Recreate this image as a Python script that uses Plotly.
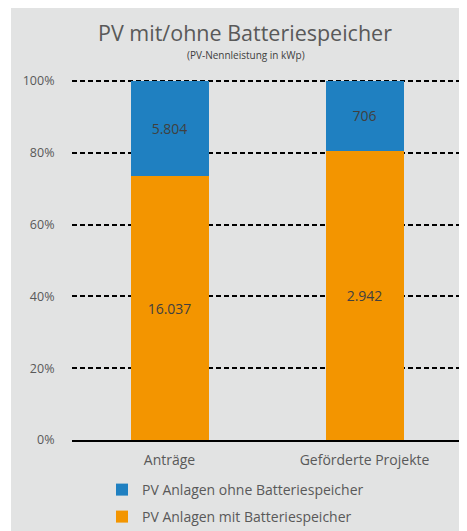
import plotly.graph_objects as go

categories = ["Anträge", "Geförderte Projekte"]
mit_batterie = [16037, 2942]
ohne_batterie = [5804, 706]
series_names = ["PV Anlagen mit Batteriespeicher", "PV Anlagen ohne Batteriespeicher"]
y_ticks = [0, 20, 40, 60, 80, 100]
y_ticklabels = ["0%", "20%", "40%", "60%", "80%", "100%"]

def de(v):
    return f"{v:,}".replace(",", ".")

# page has an 8px body margin: figure coords = page coords - 8
OFF = 8
W, H = 467 - OFF, 531 - OFF
PL, PR, PT, PB = 72 - OFF, 462 - OFF, 80 - OFF, 440 - OFF
ml, mr, mt, mb = PL, W - PR, PT, H - PB
pw, ph = PR - PL, PB - PT
BG = "#e2e3e3"
FONT = "Open Sans"

def px_x(x):
    return (x - OFF - PL) / pw

def px_y(y):
    return (PB - (y - OFF)) / ph

fig = go.Figure()
fig.add_trace(go.Bar(
    x=categories, y=mit_batterie, name=series_names[0], legend="legend2",
    marker=dict(color="#f39500", line=dict(width=0)),
    text=[de(v) for v in mit_batterie], textposition="inside",
    insidetextanchor="middle", textfont=dict(color="#404040", size=14, family=FONT),
    width=0.4, hoverinfo="skip"))
fig.add_trace(go.Bar(
    x=categories, y=ohne_batterie, name=series_names[1], legend="legend",
    marker=dict(color="#1f80c1", line=dict(width=0)),
    text=[de(v) for v in ohne_batterie], textposition="inside",
    insidetextanchor="middle", textfont=dict(color="#404040", size=14, family=FONT),
    width=0.4, hoverinfo="skip"))

leg_common = dict(xanchor="left", yanchor="middle", bgcolor="rgba(0,0,0,0)",
                  font=dict(size=14, color="#595959", family=FONT), itemwidth=30)
lx = px_x(102)

fig.update_layout(
    width=W, height=H,
    margin=dict(l=ml, r=mr, t=mt, b=mb, autoexpand=False),
    barmode="stack", barnorm="percent",
    paper_bgcolor="white", plot_bgcolor="rgba(0,0,0,0)",
    font=dict(family=FONT, color="#595959", size=13),
    showlegend=True,
    legend=dict(x=lx, y=px_y(490), **leg_common),
    legend2=dict(x=lx, y=px_y(517), **leg_common),
    shapes=[dict(type="rect", xref="paper", yref="paper", layer="below",
                 x0=px_x(11), x1=px_x(480), y0=px_y(560), y1=px_y(0),
                 fillcolor=BG, line=dict(width=0))],
    annotations=[
        dict(text="PV mit/ohne Batteriespeicher", xref="paper", yref="paper",
             x=px_x(245), y=px_y(32), xanchor="center", yanchor="middle",
             showarrow=False, font=dict(size=21.5, color="#595959", family=FONT)),
        dict(text="(PV-Nennleistung in kWp)", xref="paper", yref="paper",
             x=px_x(246), y=px_y(55), xanchor="center", yanchor="middle",
             showarrow=False, font=dict(size=10, color="#404040", family=FONT)),
    ],
)
fig.update_yaxes(range=[0, 100.3], tickvals=y_ticks, ticktext=y_ticklabels,
                 showgrid=True, gridcolor="#000000", griddash="5px,3px", gridwidth=2,
                 zeroline=False, showline=False,
                 ticks="outside", ticklen=14, tickcolor="rgba(0,0,0,0)",
                 tickfont=dict(size=12.5, color="#595959"))
fig.update_xaxes(showline=True, linecolor="#000000", linewidth=1.5,
                 showgrid=False, ticks="outside", ticklen=6, tickcolor="rgba(0,0,0,0)",
                 tickfont=dict(size=14, color="#595959"))

fig.write_html("out.html")
